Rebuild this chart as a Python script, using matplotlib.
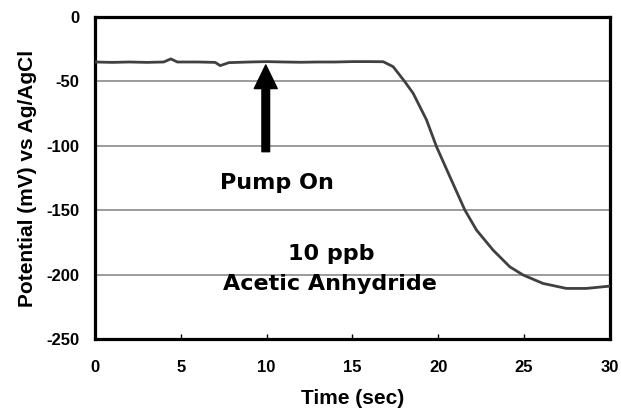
import matplotlib
matplotlib.use("Agg")
import matplotlib.pyplot as plt

plt.rcParams['font.family'] = ['Liberation Sans', 'DejaVu Sans']
plt.rcParams['font.weight'] = 'bold'
plt.rcParams['axes.unicode_minus'] = False

# time (s) and potential (mV)
time_s = [0, 1, 2, 3, 4, 4.42, 4.8, 6, 7, 7.3, 7.8, 9, 10, 11, 12, 13, 14, 15, 16, 16.8,
          17.37, 18.05, 18.54, 19.32, 19.9, 20.68, 21.55, 22.23, 23.2, 24.17, 24.95,
          26.1, 27.47, 28.63, 30]
potential = [-35, -35.3, -35, -35.3, -35, -32.6, -35, -35, -35.3, -37.8, -35.5, -35, -34.7,
             -35, -35.2, -35, -35, -34.7, -34.7, -34.8,
             -38.6, -50.2, -59.3, -80, -100.7, -124, -149.8, -165.4, -181, -193.9, -200.3,
             -206.8, -210.7, -210.7, -208.9]

xticks = [0, 5, 10, 15, 20, 25, 30]
yticks = [0, -50, -100, -150, -200, -250]

fig = plt.figure(figsize=(6.21, 4.12), dpi=100)
ax = fig.add_axes([0.153, 0.177, 0.829, 0.782])

for yv in [-50, -100, -150, -200]:
    ax.axhline(yv, color='#808080', lw=1.1, zorder=1)

ax.plot(time_s, potential, color='#404040', lw=2.0, zorder=3)

ax.set_xlim(0, 30)
ax.set_ylim(-250, 0)
ax.set_xticks(xticks)
ax.set_yticks(yticks)
ax.tick_params(axis='x', direction='in', length=3.5, width=1, pad=15, labelsize=12)
ax.tick_params(axis='y', length=0, pad=11, labelsize=12)
for s in ax.spines.values():
    s.set_linewidth(2.3)

ax.set_xlabel('Time (sec)', fontsize=15, fontweight='bold', labelpad=10)
ax.set_ylabel('Potential (mV) vs Ag/AgCl', fontsize=15, fontweight='bold', labelpad=7)

ax.annotate('', xy=(9.95, -37.3), xytext=(9.95, -104.6),
            arrowprops=dict(facecolor='black', edgecolor='black', width=5.5,
                            headwidth=16.5, headlength=17, shrink=0))
ann = dict(fontsize=16, fontweight='bold', family='DejaVu Sans', ha='center', va='baseline')
ax.text(10.63, -133.8, 'Pump On', **ann)
ax.text(13.74, -188.7, '10 ppb', **ann)
ax.text(13.69, -212, 'Acetic Anhydride', **ann)

fig.savefig('out.png', dpi=100)
